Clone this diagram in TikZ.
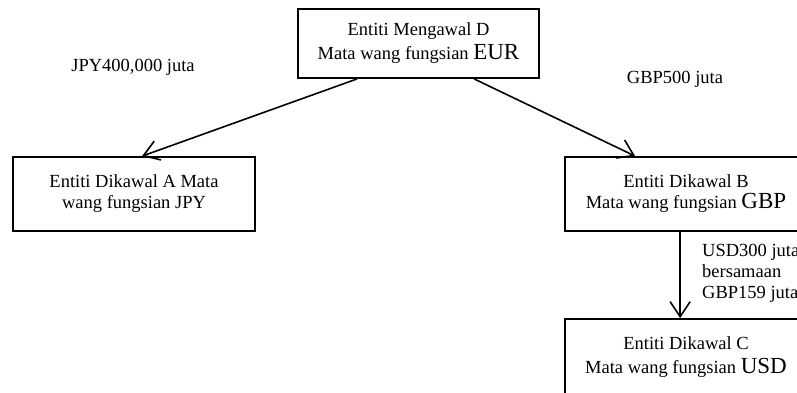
\documentclass[tikz,border=0pt]{standalone}
\usepackage{fontspec}
\setmainfont{Liberation Serif}
\usetikzlibrary{arrows.meta}
\newcommand{\ccyword}[1]{{\fontsize{23}{25}\selectfont #1}}
\begin{document}
\begin{tikzpicture}[x=1pt,y=-1pt,
  font=\fontsize{18.5}{21}\selectfont,
  box/.style={draw, line width=1.8pt, minimum width=242pt, minimum height=74pt, align=center, inner sep=0pt},
  arr/.style={line width=1.6pt, -{Straight Barb[length=15pt,width=20pt,line width=1.6pt]}},
  lbl/.style={inner sep=0pt, align=left}]
\useasboundingbox (0,0) rectangle (797,392);
\node[box, minimum width=241pt, minimum height=69pt] (D) at (418.5,43.5)
  {Entiti Mengawal D\\[3pt]Mata wang fungsian \ccyword{EUR}};
\node[box] (A) at (134,194) {Entiti Dikawal A Mata\\wang fungsian JPY};
\node[box] (B) at (686,194) {Entiti Dikawal B\\Mata wang fungsian \ccyword{GBP}};
\node[box, minimum height=76pt] (C) at (686,357) {Entiti Dikawal C\\[3pt]Mata wang fungsian \ccyword{USD}};
\draw[arr] ([xshift=60pt]D.south west) -- ([xshift=130pt]A.north west);
\draw[arr] ([xshift=177pt]D.south west) -- ([xshift=71pt]B.north west);
\draw[arr] ([xshift=116pt]B.south west) -- ([xshift=116pt]C.north west);
\node[lbl] (jpy) at (133,67) {JPY400,000 juta};
\node[lbl] (gbp) at (675,79) {GBP500 juta};
\node[lbl, anchor=west] (usd) at (702,273) {USD300 juta\\bersamaan\\GBP159 juta};
\end{tikzpicture}
\end{document}
